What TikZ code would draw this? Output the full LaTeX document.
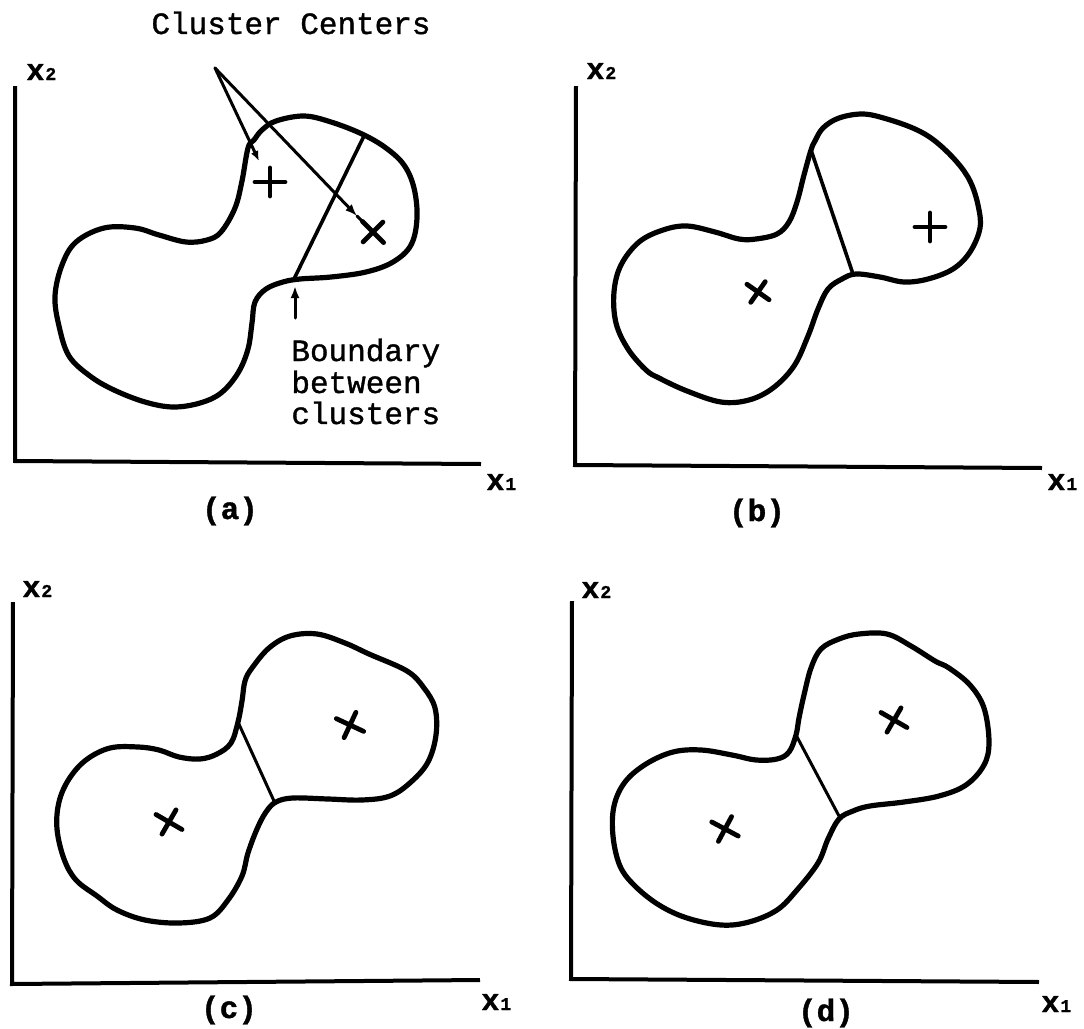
\documentclass[tikz,border=0pt]{standalone}
\usepackage{fontspec}
\newfontfamily\scanfont{Liberation Mono}[FakeBold=1.2]
\usetikzlibrary{arrows.meta}

\tikzset{
  outline/.style={line width=2.6pt, line join=round},
  divide/.style={line width=1.8pt, line cap=round},
  axis/.style={line width=2pt, line join=miter},
  pointer/.style={line width=1.5pt, line cap=round},
  markline/.style={line width=2.4pt, line cap=round},
  lbl/.style={font=\scanfont\fontsize{15.5}{15.75}\selectfont, inner sep=0pt},
  axlbl/.style={font=\scanfont\bfseries\fontsize{15}{15}\selectfont, inner sep=0pt, anchor=base west},
  caplbl/.style={font=\scanfont\bfseries\fontsize{15.5}{15.5}\selectfont, inner sep=0pt, anchor=base},
  cross/.pic={\draw[markline] (-15,0) -- (15,0) (0,-14) -- (0,14);},
}
\newcommand\sub[1]{\kern0.5pt{\fontsize{9}{9}\selectfont #1}}

\begin{document}
\begin{tikzpicture}[x=0.5pt, y=-0.5pt, >={Latex[length=6pt, width=4.5pt]}]
	\useasboundingbox (0,0) rectangle (1084,1029);

	% (a)
	\draw[axis] (15,86) -- (15,461) -- (481,464);
	\node[axlbl] (a-x2) at (26,80) {x\sub{2}};
	\node[axlbl] (a-x1) at (486,490) {x\sub{1}};
	\node[caplbl] (a-cap) at (230,519) {(a)};
	\draw[outline] plot[smooth cycle, tension=0.6] coordinates {(248,148) (242,181) (235,208) (221,232) (207,240) (186,242) (159,235) (135,228) (104,228) (76,242) (62,265) (55,296) (59,326) (69,356) (90,376) (114,390) (145,402) (173,407) (200,403) (221,393) (238,373) (248,349) (252,323) (255,302) (266,289) (283,282) (300,279) (331,277) (366,272) (393,262) (411,245) (417,218) (414,188) (404,165) (386,148) (362,134) (331,122) (304,116) (276,121) (262,130) (254,140)};
	\draw[divide] (364,136) -- (294,279);
	\coordinate (c1) at (270,182);
	\coordinate (c2) at (373,232);
	\pic at (c1) {cross};
	\pic[rotate=-45] at (c2) {cross};
	\node[lbl, anchor=base] (cc) at (291,34) {Cluster Centers};
	\coordinate (apex) at (215,68);
	\coordinate (tipA) at (259,161);
	\coordinate (tipB) at (357,216);
	\draw[pointer, ->, >={Latex[length=5pt, width=4pt]}] (apex) -- (tipA);
	\draw[pointer, ->] (apex) -- (tipB);
	\draw[pointer] (tipB) -- (c2);
	\node[lbl, anchor=base west] (bd1) at (291,361) {Boundary};
	\node[lbl, anchor=base west] (bd2) at (291,393) {between};
	\node[lbl, anchor=base west] (bd3) at (291,424) {clusters};
	\coordinate (neck) at (295,286);
	\coordinate (tail) at (295,318);
	\draw[pointer, ->] (tail) -- (neck);

	% (b)
	\draw[axis] (576,86) -- (575,465) -- (1042,468);
	\node[axlbl] (b-x2) at (586,79) {x\sub{2}};
	\node[axlbl] (b-x1) at (1047,490) {x\sub{1}};
	\node[caplbl] (b-cap) at (757,521) {(b)};
	\draw[outline] plot[smooth cycle, tension=0.6] coordinates {(811,150) (804,175) (797,202) (789,222) (777,234) (756,239) (739,239) (715,232) (687,226) (663,230) (639,242) (621,265) (614,292) (616,323) (628,349) (646,370) (659,378) (687,391) (721,402) (749,400) (773,388) (794,366) (808,336) (818,309) (828,289) (842,279) (856,274) (880,277) (904,282) (928,279) (953,269) (970,252) (980,228) (978,205) (970,181) (956,161) (935,141) (915,129) (887,119) (863,114) (839,118) (823,128) (815,141)};
	\draw[divide] (811,150) -- (853,274);
	\pic[rotate=-35, scale=0.9] at (758,292) {cross};
	\pic at (930,227) {cross};

	% (c)
	\draw[axis] (13,602) -- (12,984) -- (480,980);
	\node[axlbl] (c-x2) at (22,597) {x\sub{2}};
	\node[axlbl] (c-x1) at (481,1010) {x\sub{1}};
	\node[caplbl] (c-cap) at (229,1018) {(c)};
	\draw[outline] plot[smooth cycle, tension=0.6] coordinates {(238,722) (231,743) (217,754) (200,759) (179,757) (159,750) (138,747) (110,748) (86,760) (69,779) (59,802) (57,829) (64,859) (76,880) (97,896) (117,910) (145,920) (179,923) (210,918) (228,900) (242,876) (248,853) (257,829) (266,812) (276,802) (293,798) (328,799) (362,800) (390,796) (411,782) (428,762) (436,735) (435,708) (424,688) (407,671) (369,654) (345,643) (317,634) (290,636) (269,648) (252,668) (245,681) (242,701)};
	\draw[divide, line width=1.5pt] (238,722) -- (274,801);
	\pic[rotate=-30] at (169,822) {cross};
	\pic[rotate=-25] at (350,725) {cross};

	% (d)
	\draw[axis] (572,601) -- (571,979) -- (1039,982);
	\node[axlbl] (d-x2) at (581,598) {x\sub{2}};
	\node[axlbl] (d-x1) at (1041,1012) {x\sub{1}};
	\node[caplbl] (d-cap) at (826,1021) {(d)};
	\draw[outline] plot[smooth cycle, tension=0.6] coordinates {(796,735) (789,752) (777,759) (756,760) (732,755) (701,750) (673,752) (646,764) (625,782) (614,806) (613,836) (620,866) (635,886) (659,905) (687,918) (721,925) (749,922) (777,910) (797,890) (818,863) (828,839) (839,819) (853,811) (870,806) (904,802) (939,796) (966,785) (984,765) (989,742) (984,708) (970,685) (949,668) (935,661) (911,646) (887,634) (859,634) (839,639) (821,649) (811,668) (804,695) (799,718)};
	\draw[divide, line width=1.5pt] (796,735) -- (839,816);
	\pic[rotate=-28] at (725,829) {cross};
	\pic[rotate=-30] at (894,720) {cross};
\end{tikzpicture}
\end{document}
